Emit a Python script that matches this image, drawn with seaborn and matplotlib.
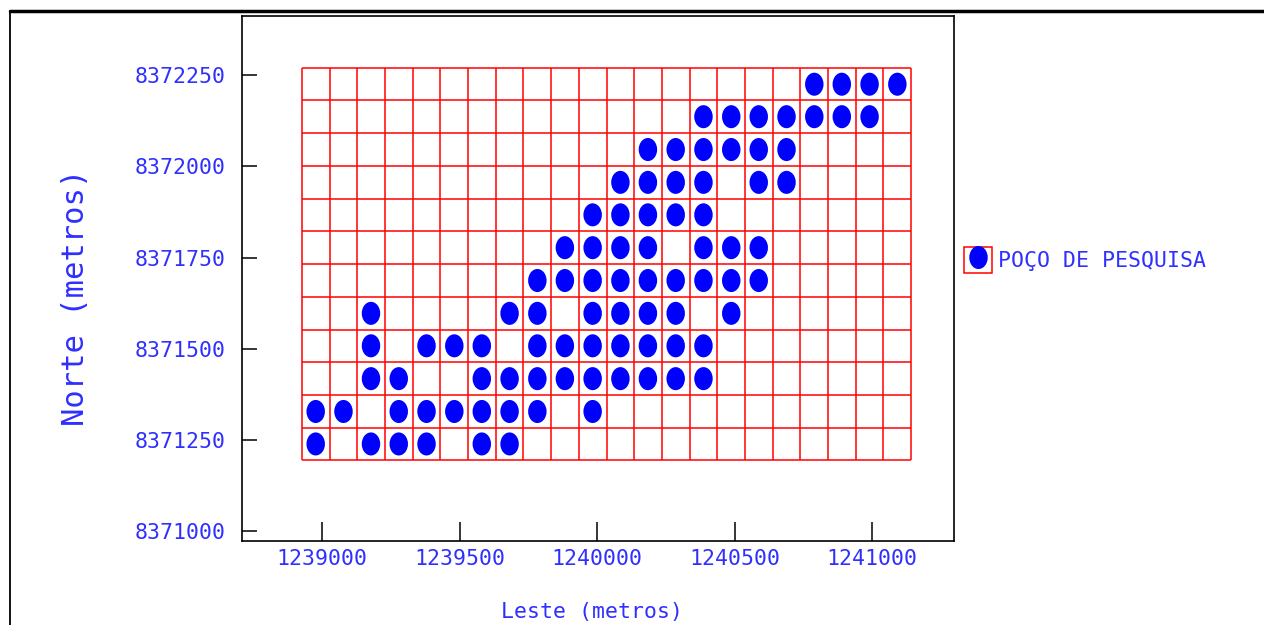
import numpy as np
import pandas as pd
import matplotlib
matplotlib.use("Agg")
import matplotlib.pyplot as plt
import seaborn as sns
from matplotlib.path import Path
from matplotlib.transforms import Affine2D
from matplotlib.lines import Line2D
from matplotlib.patches import Patch
from matplotlib.legend_handler import HandlerTuple

# ---- data -------------------------------------------------------------
# Easting of grid column centres (m)
col_easting = [1238977, 1239078, 1239178, 1239279, 1239380, 1239481,
               1239581, 1239682, 1239783, 1239883, 1239984, 1240085,
               1240185, 1240286, 1240387, 1240488, 1240588, 1240689,
               1240790, 1240890, 1240991, 1241092]
# Northing of grid row centres (m), bottom to top
row_northing = [8371239, 8371328, 8371418, 8371508, 8371597, 8371687,
                8371777, 8371867, 8371956, 8372046, 8372136, 8372225]
# Columns (indices) holding a survey well in each row, bottom to top
wells_by_row = [
    [0, 2, 3, 4, 6, 7],
    [0, 1, 3, 4, 5, 6, 7, 8, 10],
    [2, 3, 6, 7, 8, 9, 10, 11, 12, 13, 14],
    [2, 4, 5, 6, 8, 9, 10, 11, 12, 13, 14],
    [2, 7, 8, 10, 11, 12, 13, 15],
    [8, 9, 10, 11, 12, 13, 14, 15, 16],
    [9, 10, 11, 12, 14, 15, 16],
    [10, 11, 12, 13, 14],
    [11, 12, 13, 14, 16, 17],
    [12, 13, 14, 15, 16, 17],
    [14, 15, 16, 17, 18, 19, 20],
    [18, 19, 20, 21],
]
x_ticks = [1239000, 1239500, 1240000, 1240500, 1241000]
y_ticks = [8371000, 8371250, 8371500, 8371750, 8372000, 8372250]
x_title = "Leste (metros)"
y_title = "Norte (metros)"
legend_label = "POÇO DE PESQUISA"

rows = []
for r, cols in enumerate(wells_by_row):
    for c in cols:
        rows.append({"easting": col_easting[c], "northing": row_northing[r]})
df = pd.DataFrame(rows)

# ---- style ------------------------------------------------------------
sns.set_style("white")
plt.rcParams["font.family"] = ["DejaVu Sans Mono", "DejaVu Sans"]
TXT = "#2f2fff"
DOT = "#0000ff"
FS = 15.5

fig = plt.figure(figsize=(12.64, 6.25), dpi=100)
ax = fig.add_axes([242 / 1264, 84 / 625, 712 / 1264, 525 / 625])

ellipse = Path.unit_circle().transformed(Affine2D().scale(0.80, 1.0))

# grid cells
ce = np.array(col_easting, dtype=float)
rn = np.array(row_northing, dtype=float)
x_edges = np.concatenate([[ce[0] - (ce[1] - ce[0]) / 2], (ce[:-1] + ce[1:]) / 2,
                          [ce[-1] + (ce[-1] - ce[-2]) / 2]])
y_edges = np.concatenate([[rn[0] - (rn[1] - rn[0]) / 2], (rn[:-1] + rn[1:]) / 2,
                          [rn[-1] + (rn[-1] - rn[-2]) / 2]])
ax.vlines(x_edges, y_edges[0], y_edges[-1], color="red", lw=1.1, zorder=1)
ax.hlines(y_edges, x_edges[0], x_edges[-1], color="red", lw=1.1, zorder=1)

sns.scatterplot(data=df, x="easting", y="northing", marker=ellipse, s=16.6 ** 2,
                color=DOT, edgecolor="none", linewidth=0, ax=ax, legend=False,
                zorder=3)

ax.set_xlim(1238709, 1241298)
ax.set_ylim(8370973, 8372412)
ax.set_xticks(x_ticks)
ax.set_yticks(y_ticks)
ax.set_xticklabels([str(v) for v in x_ticks])
ax.set_yticklabels([str(v) for v in y_ticks])
ax.tick_params(axis="x", bottom=True, direction="in", length=14, width=1.1,
               color="black", labelcolor=TXT, labelsize=FS, pad=6)
ax.tick_params(axis="y", left=True, direction="in", length=11, width=1.1,
               color="black", labelcolor=TXT, labelsize=FS, pad=12)
for s in ax.spines.values():
    s.set_color("black")
    s.set_linewidth(1.2)

ax.set_xlabel(x_title, color=TXT, fontsize=FS, va="center", ha="center")
ax.xaxis.set_label_coords((592 - 242) / 712, (541 - 612) / 525)
ax.set_ylabel(y_title, color=TXT, fontsize=22, va="center", ha="center")
ax.yaxis.set_label_coords((75 - 242) / 712, (541 - 297) / 525)

# legend
em = FS * 100 / 72
h_box = Patch(facecolor="none", edgecolor="red", linewidth=1.1)
h_dot = Line2D([], [], linestyle="none", marker=ellipse, markersize=16.6,
               markerfacecolor=DOT, markeredgecolor="none")
leg = fig.legend([(h_box, h_dot)], [legend_label],
                 handler_map={tuple: HandlerTuple(ndivide=1, pad=0)},
                 loc="center left", bbox_to_anchor=(964 / 1264, 1 - 260 / 625),
                 bbox_transform=fig.transFigure, frameon=False, fontsize=FS,
                 borderpad=0, borderaxespad=0, handlelength=28 / em,
                 handleheight=33 / em, handletextpad=6 / em, numpoints=1)
for t in leg.get_texts():
    t.set_color(TXT)

# outer drawing frame
fig.add_artist(Line2D([10 / 1264, 1.0], [1 - 11 / 625, 1 - 11 / 625],
                      transform=fig.transFigure, color="black", lw=2.5))
fig.add_artist(Line2D([10 / 1264, 10 / 1264], [0.0, 1 - 11 / 625],
                      transform=fig.transFigure, color="black", lw=1.3))

fig.savefig("out.png", dpi=100)
